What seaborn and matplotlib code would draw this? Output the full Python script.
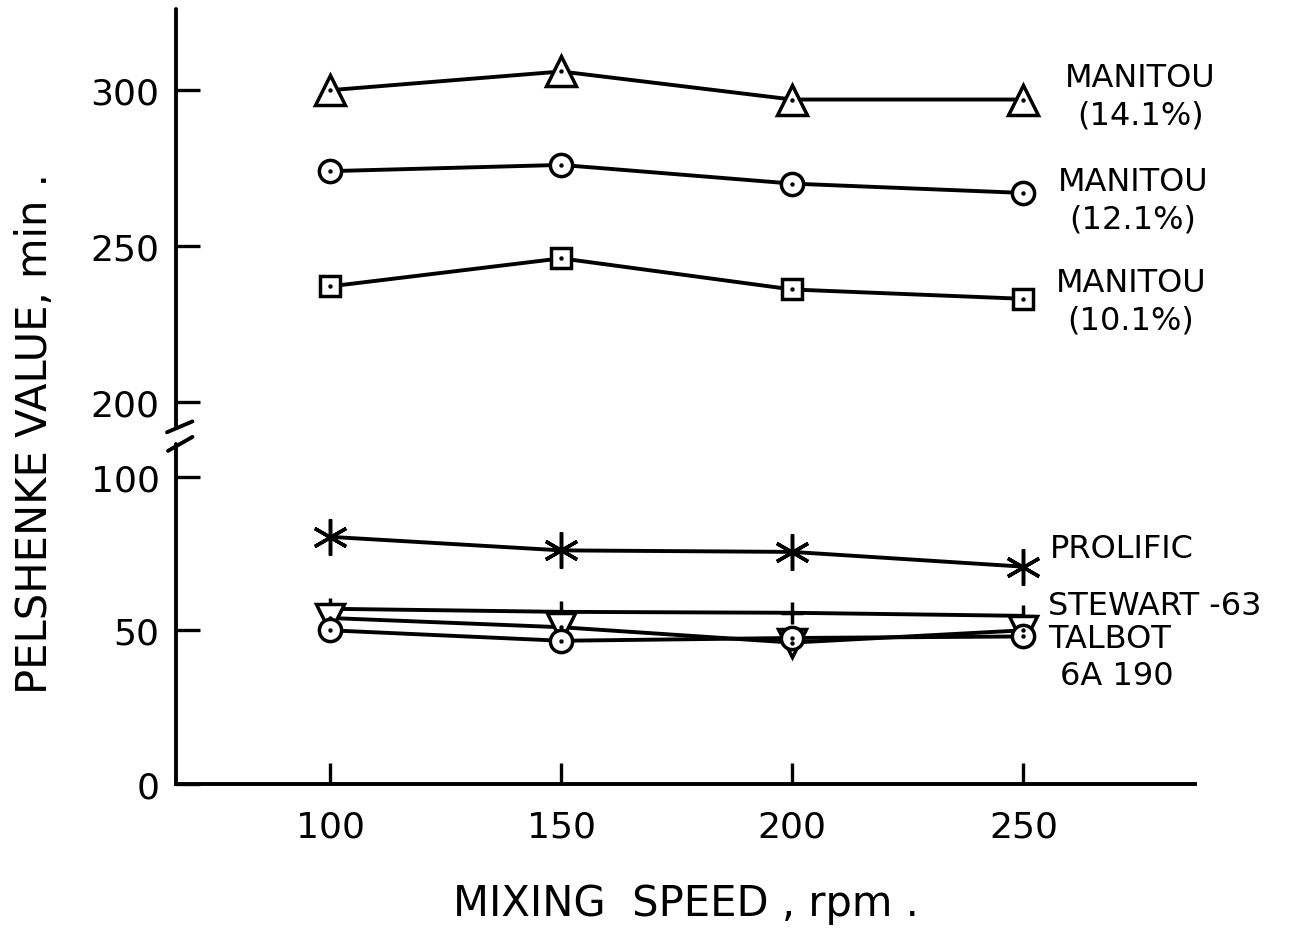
"""Pelshenke value vs mixing speed, broken y axis."""
import matplotlib

matplotlib.use("Agg")
import matplotlib.pyplot as plt
import numpy as np
import seaborn as sns
from matplotlib.lines import Line2D

speeds = [100, 150, 200, 250]
manitou_141 = [300, 306, 297, 297]
manitou_121 = [274, 276, 270, 267]
manitou_101 = [237, 246, 236, 233]
prolific = [80.4, 76, 75.5, 70.7]
stewart_63 = [57, 56, 55.7, 54.7]
talbot = [54, 51, 46, 50]
sixa_190 = [50, 46.6, 47.5, 48]

y_ticks = [0, 50, 100, 200, 250, 300]
x_ticks = [100, 150, 200, 250]

# piecewise scale: the gap 100..200 is squeezed into the break
Y_REAL = [0, 100, 200, 300, 400]
Y_AXIS = [0, 100, 124.4, 225.7, 327.0]


def fwd(y):
    return np.interp(y, Y_REAL, Y_AXIS)


def inv(y):
    return np.interp(y, Y_AXIS, Y_REAL)


sns.set_style("white")
plt.rcParams["font.family"] = ["DejaVu Sans"]
plt.rcParams["text.color"] = "black"
plt.rcParams["axes.labelcolor"] = "black"
plt.rcParams["xtick.color"] = "black"
plt.rcParams["ytick.color"] = "black"

fig = plt.figure(figsize=(13.05, 9.29), dpi=100)
ax = fig.add_axes([0.135, 0.155, 0.781, 0.834])
ax.set_yscale("function", functions=(fwd, inv))

LW = 2.8
series = [
    (manitou_141, "^", 22, True),
    (manitou_121, "o", 16, True),
    (manitou_101, "s", 14, True),
    (prolific, (6, 2, 0), 26, False),
    (stewart_63, "+", 16, False),
    (talbot, "v", 20, True),
    (sixa_190, "o", 16, True),
]
for vals, mk, ms, dot in series:
    sns.lineplot(x=speeds, y=vals, ax=ax, color="black", linewidth=LW,
                 marker=mk, markersize=ms, markerfacecolor="white",
                 markeredgecolor="black", markeredgewidth=2.5)
    if dot:
        sns.scatterplot(x=speeds, y=vals, ax=ax, color="black", s=10,
                        linewidth=0, zorder=5)

ax.set_xlim(66.7, 287.2)
ax.set_ylim(0, 326)
ax.set_xticks(x_ticks)
ax.set_yticks(y_ticks)
ax.tick_params(direction="in", width=2.4, labelsize=26, pad=12,
               left=True, bottom=True)
ax.tick_params(axis="y", length=17)
ax.tick_params(axis="x", length=15, pad=18)

for side in ("top", "right", "left"):
    ax.spines[side].set_visible(False)
ax.spines["bottom"].set_linewidth(2.8)
ax.spines["bottom"].set_color("black")

# broken left spine with slash marks
kw = dict(transform=ax.transAxes, color="black", linewidth=2.8, clip_on=False)
ax.add_line(Line2D([0, 0], [0, 0.439], **kw))
ax.add_line(Line2D([0, 0], [0.462, 1.0], **kw))
ax.add_line(Line2D([-0.008, 0.016], [0.430, 0.448], **kw))
ax.add_line(Line2D([-0.009, 0.016], [0.454, 0.468], **kw))

ax.set_xlabel("MIXING  SPEED , rpm .", fontsize=30, labelpad=28)
ax.set_ylabel("PELSHENKE VALUE, min .", fontsize=30)
ax.yaxis.set_label_coords(-0.118, 0.454)

lab = dict(fontsize=23, ha="left", va="center", linespacing=1.25)
ax.text(259, 298, "MANITOU\n(14.1%)", multialignment="center", **lab)
ax.text(257.4, 264.7, "MANITOU\n(12.1%)", multialignment="center", **lab)
ax.text(257, 232.2, "MANITOU\n(10.1%)", multialignment="center", **lab)
ax.text(255.8, 76.5, "PROLIFIC", **lab)
ax.text(255.4, 58, "STEWART -63", **lab)
ax.text(255.4, 47.2, "TALBOT", **lab)
ax.text(258, 35.2, "6A 190", **lab)

fig.savefig("out.png", dpi=100)
